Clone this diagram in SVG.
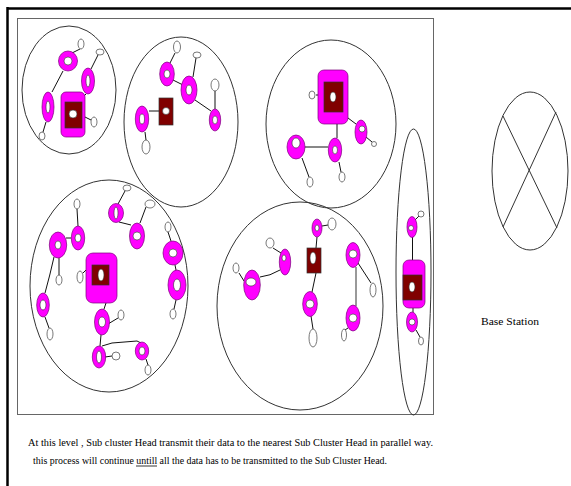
<svg xmlns="http://www.w3.org/2000/svg" width="571" height="486" viewBox="0 0 571 486">
<style>
.cl{fill:none;stroke:#333;stroke-width:1}
.ring{fill:#FF00FF;stroke:#7a007a;stroke-width:0.7}
.hole{fill:#fff;stroke:#333;stroke-width:0.6}
.sm{fill:#fff;stroke:#555;stroke-width:0.8}
.chb{fill:#FF00FF;stroke:#7a007a;stroke-width:0.7}
.chi{fill:#800000;stroke:#333;stroke-width:0.7}
.cn line,.cn path{stroke:#111;stroke-width:1;fill:none}
.txt{font-family:"Liberation Serif","Times New Roman",serif;font-size:11px;fill:#000}
</style>
<rect x="0" y="0" width="571" height="486" fill="#fff"/>
<g id="frame">
<line x1="7" y1="8.5" x2="571" y2="8.5" stroke="#000" stroke-width="2.5"/>
<line x1="7.5" y1="7" x2="7.5" y2="486" stroke="#000" stroke-width="2.5"/>
<rect x="17.5" y="18.5" width="416" height="396" fill="none" stroke="#666" stroke-width="1"/>
</g>
<g id="clusters">
<ellipse id="cluster1" class="cl" cx="69" cy="90" rx="47" ry="64"/>
<ellipse id="cluster2" class="cl" cx="181" cy="122" rx="57" ry="85"/>
<ellipse id="cluster3" class="cl" cx="331" cy="124" rx="65" ry="84"/>
<ellipse id="cluster4" class="cl" cx="109" cy="286" rx="79" ry="106"/>
<ellipse id="cluster5" class="cl" cx="300" cy="306" rx="83" ry="104"/>
<ellipse id="cluster6" class="cl" cx="413.5" cy="272" rx="17.5" ry="143"/>
</g>
<g id="connectors" class="cn">
<line x1="80" y1="49" x2="72" y2="53"/>
<line x1="98" y1="55" x2="91" y2="69"/>
<line x1="63" y1="71" x2="52" y2="92"/>
<line x1="86" y1="94" x2="83" y2="97"/>
<line x1="85" y1="117" x2="91" y2="120"/>
<line x1="46" y1="122" x2="43" y2="132"/>
<line x1="175" y1="53" x2="170" y2="63"/>
<line x1="196" y1="58" x2="193" y2="77"/>
<line x1="173" y1="80" x2="183" y2="85"/>
<line x1="195" y1="100" x2="211" y2="111"/>
<line x1="215" y1="91" x2="215" y2="109"/>
<line x1="149" y1="111" x2="159" y2="111"/>
<line x1="145" y1="132" x2="146" y2="140"/>
<line x1="337" y1="124" x2="337" y2="138"/>
<line x1="305" y1="147" x2="328" y2="147"/>
<line x1="348" y1="118" x2="356" y2="124"/>
<line x1="366" y1="137" x2="372" y2="142"/>
<line x1="302" y1="158" x2="309" y2="177"/>
<line x1="339" y1="162" x2="341" y2="172"/>
<line x1="316" y1="95" x2="318" y2="95"/>
<line x1="77" y1="209" x2="78" y2="226"/>
<line x1="71" y1="238" x2="66" y2="238"/>
<line x1="59" y1="258" x2="59" y2="275"/>
<path d="M54 257 Q50 275 45 293"/>
<line x1="125" y1="191" x2="118" y2="204"/>
<line x1="119" y1="222" x2="131" y2="225"/>
<line x1="146" y1="207" x2="140" y2="223"/>
<line x1="168" y1="232" x2="171" y2="241"/>
<line x1="175" y1="265" x2="176" y2="270"/>
<line x1="176" y1="300" x2="174" y2="309"/>
<line x1="83" y1="273" x2="86" y2="270"/>
<line x1="106" y1="303" x2="104" y2="309"/>
<line x1="108" y1="324" x2="118" y2="318"/>
<line x1="45" y1="317" x2="49" y2="328"/>
<line x1="101" y1="335" x2="100" y2="346"/>
<line x1="105" y1="357" x2="112" y2="356"/>
<path d="M102 346 L112 343 L137 341 L141 343"/>
<line x1="146" y1="359" x2="148" y2="365"/>
<line x1="322" y1="226" x2="328" y2="225"/>
<line x1="317" y1="237" x2="316" y2="248"/>
<line x1="273" y1="248" x2="281" y2="253"/>
<path d="M280 270 Q270 276 260 277"/>
<line x1="244" y1="281" x2="239" y2="273"/>
<line x1="316" y1="273" x2="312" y2="292"/>
<line x1="311" y1="316" x2="313" y2="329"/>
<line x1="358" y1="263" x2="371" y2="283"/>
<line x1="356" y1="267" x2="356" y2="306" style="stroke:#777;stroke-width:1.5"/>
<line x1="348" y1="328" x2="345" y2="330"/>
<line x1="419" y1="216" x2="415" y2="220"/>
<line x1="412.5" y1="237" x2="412.5" y2="260"/>
<line x1="413" y1="308" x2="413" y2="312"/>
<line x1="416" y1="330" x2="420" y2="337"/>
</g>
<g id="c1-nodes">
<g id="n1a"><ellipse class="ring" cx="68" cy="61" rx="9.5" ry="10"/><ellipse class="hole" cx="68" cy="61" rx="4" ry="4"/></g>
<g id="s1a"><ellipse class="sm" cx="81" cy="44" rx="3" ry="5"/></g>
<g id="s1b"><ellipse class="sm" cx="100" cy="52" rx="4" ry="3"/></g>
<g id="n1b"><ellipse class="ring" cx="88" cy="81" rx="6.5" ry="13"/><ellipse class="hole" cx="88" cy="81" rx="2" ry="6"/></g>
<g id="n1c"><ellipse class="ring" cx="48" cy="107" rx="6" ry="15"/><ellipse class="hole" cx="48" cy="107" rx="2" ry="6"/></g>
<g id="ch1"><rect class="chb" x="61" y="92" width="24" height="45" rx="5"/><rect class="chi" x="65" y="102" width="17" height="26"/><ellipse class="hole" cx="73" cy="114" rx="4" ry="4"/></g>
<g id="s1c"><ellipse class="sm" cx="94" cy="122" rx="3" ry="5"/></g>
<g id="s1d"><ellipse class="sm" cx="42" cy="136" rx="3" ry="4"/></g>
</g>
<g id="c2-nodes">
<g id="s2a"><ellipse class="sm" cx="177" cy="47" rx="3.5" ry="6"/></g>
<g id="s2b"><ellipse class="sm" cx="197" cy="55" rx="4" ry="3"/></g>
<g id="n2a"><ellipse class="ring" cx="167" cy="74" rx="7.3" ry="12"/><ellipse class="hole" cx="167" cy="74" rx="3" ry="4"/></g>
<g id="n2b"><ellipse class="ring" cx="189" cy="90" rx="8" ry="14"/><ellipse class="hole" cx="189" cy="90" rx="3" ry="5"/></g>
<g id="s2c"><ellipse class="sm" cx="215" cy="85" rx="4" ry="6"/></g>
<g id="n2c"><ellipse class="ring" cx="215" cy="120" rx="5.7" ry="11"/><ellipse class="hole" cx="215" cy="120" rx="2.5" ry="4"/></g>
<g id="ch2"><rect class="chi" x="159" y="98" width="14" height="27"/><ellipse class="hole" cx="166" cy="111" rx="3.5" ry="3.5"/></g>
<g id="n2d"><ellipse class="ring" cx="142" cy="119" rx="6.7" ry="13"/><ellipse class="hole" cx="142" cy="119" rx="2.5" ry="5"/></g>
<g id="s2d"><ellipse class="sm" cx="146" cy="147" rx="4" ry="7"/></g>
</g>
<g id="c3-nodes">
<g id="ch3"><rect class="chb" x="318" y="70" width="30" height="54" rx="6"/><rect class="chi" x="324" y="82" width="19" height="30"/><ellipse class="hole" cx="333" cy="97" rx="3" ry="5"/></g>
<g id="s3a"><ellipse class="sm" cx="312" cy="95" rx="3" ry="4"/></g>
<g id="n3a"><ellipse class="ring" cx="361" cy="132" rx="6" ry="12"/><ellipse class="hole" cx="362" cy="129" rx="3" ry="3"/></g>
<g id="s3b"><ellipse class="sm" cx="374" cy="144" rx="2.5" ry="2.5"/></g>
<g id="n3b"><ellipse class="ring" cx="335" cy="150" rx="6.7" ry="12"/><ellipse class="hole" cx="335" cy="150" rx="2.5" ry="4"/></g>
<g id="n3c"><ellipse class="ring" cx="296" cy="147" rx="9" ry="12"/><ellipse class="hole" cx="296" cy="143" rx="4" ry="5"/></g>
<g id="s3c"><ellipse class="sm" cx="310" cy="182" rx="3" ry="5"/></g>
<g id="s3d"><ellipse class="sm" cx="342" cy="177" rx="3" ry="5"/></g>
</g>
<g id="c4-nodes">
<g id="s4a"><ellipse class="sm" cx="77" cy="204" rx="3" ry="5"/></g>
<g id="s4b"><ellipse class="sm" cx="127" cy="188" rx="4" ry="3"/></g>
<g id="n4a"><ellipse class="ring" cx="116" cy="213" rx="7.5" ry="9.5"/><ellipse class="hole" cx="116" cy="213" rx="2" ry="6"/></g>
<g id="s4c"><ellipse class="sm" cx="150" cy="204" rx="5" ry="4"/></g>
<g id="n4b"><ellipse class="ring" cx="137" cy="236" rx="7.5" ry="13"/><ellipse class="hole" cx="137" cy="236" rx="4" ry="4"/></g>
<g id="s4d"><ellipse class="sm" cx="168" cy="227" rx="3" ry="5"/></g>
<g id="n4c"><ellipse class="ring" cx="78" cy="238" rx="6.7" ry="12"/><ellipse class="hole" cx="78" cy="238" rx="3" ry="4"/></g>
<g id="n4d"><ellipse class="ring" cx="58" cy="245" rx="8.7" ry="13"/><ellipse class="hole" cx="58" cy="245" rx="3" ry="4"/></g>
<g id="s4e"><ellipse class="sm" cx="59" cy="280" rx="3" ry="5"/></g>
<g id="ch4"><rect class="chb" x="86" y="253" width="31" height="50" rx="7"/><rect class="chi" x="92" y="265" width="17" height="20"/><ellipse class="hole" cx="101" cy="275" rx="3" ry="6"/></g>
<g id="s4f"><ellipse class="sm" cx="80" cy="277" rx="3" ry="6"/></g>
<g id="n4e"><ellipse class="ring" cx="173" cy="253" rx="10" ry="12"/><ellipse class="hole" cx="173" cy="253" rx="4" ry="4"/></g>
<g id="n4f"><ellipse class="ring" cx="177" cy="285" rx="9" ry="15"/><ellipse class="hole" cx="177" cy="285" rx="3.5" ry="6"/></g>
<g id="s4g"><ellipse class="sm" cx="173" cy="314" rx="3" ry="5"/></g>
<g id="n4g"><ellipse class="ring" cx="43" cy="305" rx="6.3" ry="12"/><ellipse class="hole" cx="43" cy="305" rx="3" ry="5"/></g>
<g id="s4h"><ellipse class="sm" cx="50" cy="334" rx="3" ry="6"/></g>
<g id="n4h"><ellipse class="ring" cx="102" cy="322" rx="7.5" ry="13"/><ellipse class="hole" cx="102" cy="322" rx="3.5" ry="5"/></g>
<g id="s4i"><ellipse class="sm" cx="121" cy="315" rx="3" ry="5"/></g>
<g id="n4i"><ellipse class="ring" cx="99" cy="357" rx="6.7" ry="11"/><ellipse class="hole" cx="99" cy="357" rx="2.5" ry="6"/></g>
<g id="s4j"><ellipse class="sm" cx="116" cy="356" rx="4" ry="4"/></g>
<g id="n4j"><ellipse class="ring" cx="142" cy="351" rx="6.7" ry="9"/><ellipse class="hole" cx="142" cy="351" rx="3" ry="4"/></g>
<g id="s4k"><ellipse class="sm" cx="148" cy="370" rx="3" ry="5"/></g>
</g>
<g id="c5-nodes">
<g id="n5a"><ellipse class="ring" cx="317" cy="228" rx="5" ry="9"/><ellipse class="hole" cx="317" cy="228" rx="2" ry="3"/></g>
<g id="s5a"><ellipse class="sm" cx="332" cy="224" rx="4" ry="6"/></g>
<g id="ch5"><rect class="chi" x="307" y="248" width="14" height="25"/><ellipse class="hole" cx="313" cy="258" rx="3" ry="6"/></g>
<g id="s5b"><ellipse class="sm" cx="270" cy="243" rx="4" ry="5"/></g>
<g id="n5b"><ellipse class="ring" cx="285" cy="262" rx="5.7" ry="13"/><ellipse class="hole" cx="284" cy="258" rx="2" ry="3"/></g>
<g id="s5c"><ellipse class="sm" cx="236" cy="268" rx="3" ry="5"/></g>
<g id="n5c"><ellipse class="ring" cx="252" cy="285" rx="8.3" ry="15"/><ellipse class="hole" cx="251" cy="282" rx="5" ry="4"/></g>
<g id="n5d"><ellipse class="ring" cx="353" cy="255" rx="7" ry="12.5"/><ellipse class="hole" cx="353" cy="254" rx="4" ry="4"/></g>
<g id="s5d"><ellipse class="sm" cx="373" cy="290" rx="3" ry="7"/></g>
<g id="n5e"><ellipse class="ring" cx="310" cy="304" rx="7.3" ry="12.5"/><ellipse class="hole" cx="310" cy="304" rx="4" ry="4"/></g>
<g id="s5e"><ellipse class="sm" cx="313" cy="338" rx="4" ry="9"/></g>
<g id="n5f"><ellipse class="ring" cx="353" cy="318" rx="7" ry="13"/><ellipse class="hole" cx="353" cy="318" rx="4" ry="4"/></g>
<g id="s5f"><ellipse class="sm" cx="344" cy="335" rx="2.5" ry="6"/></g>
</g>
<g id="c6-nodes">
<g id="s6a"><ellipse class="sm" cx="421" cy="214" rx="3" ry="3"/></g>
<g id="n6a"><ellipse class="ring" cx="412" cy="227" rx="5" ry="10.5"/><ellipse class="hole" cx="411" cy="228" rx="2.5" ry="2.5"/></g>
<g id="ch6"><rect class="chb" x="403" y="260" width="22" height="48" rx="6"/><rect class="chi" x="403" y="275" width="19" height="25"/><ellipse class="hole" cx="412" cy="287" rx="3" ry="5"/></g>
<g id="n6b"><ellipse class="ring" cx="412" cy="322" rx="5.5" ry="10"/><ellipse class="hole" cx="412" cy="322" rx="3" ry="3"/></g>
<g id="s6b"><ellipse class="sm" cx="421" cy="341" rx="2.5" ry="4"/></g>
</g>
<g id="base-station">
<ellipse class="cl" cx="530" cy="171" rx="38" ry="79"/>
<line x1="503" y1="116" x2="557" y2="228" stroke="#333" stroke-width="1"/>
<line x1="556" y1="112" x2="503" y2="227" stroke="#333" stroke-width="1"/>
<text class="txt" x="481" y="325" textLength="58" lengthAdjust="spacingAndGlyphs">Base Station</text>
</g>
<g id="caption">
<text class="txt" x="28" y="446" textLength="405" lengthAdjust="spacingAndGlyphs">At this level , Sub cluster Head transmit their data to the nearest Sub Cluster Head in parallel way.</text>
<text class="txt" x="33" y="464" textLength="354" lengthAdjust="spacingAndGlyphs">this process will continue untill  all the data has to be transmitted to the Sub Cluster Head.</text>
<line x1="136" y1="466" x2="157" y2="466" stroke="#000" stroke-width="0.8"/>
</g>
</svg>
